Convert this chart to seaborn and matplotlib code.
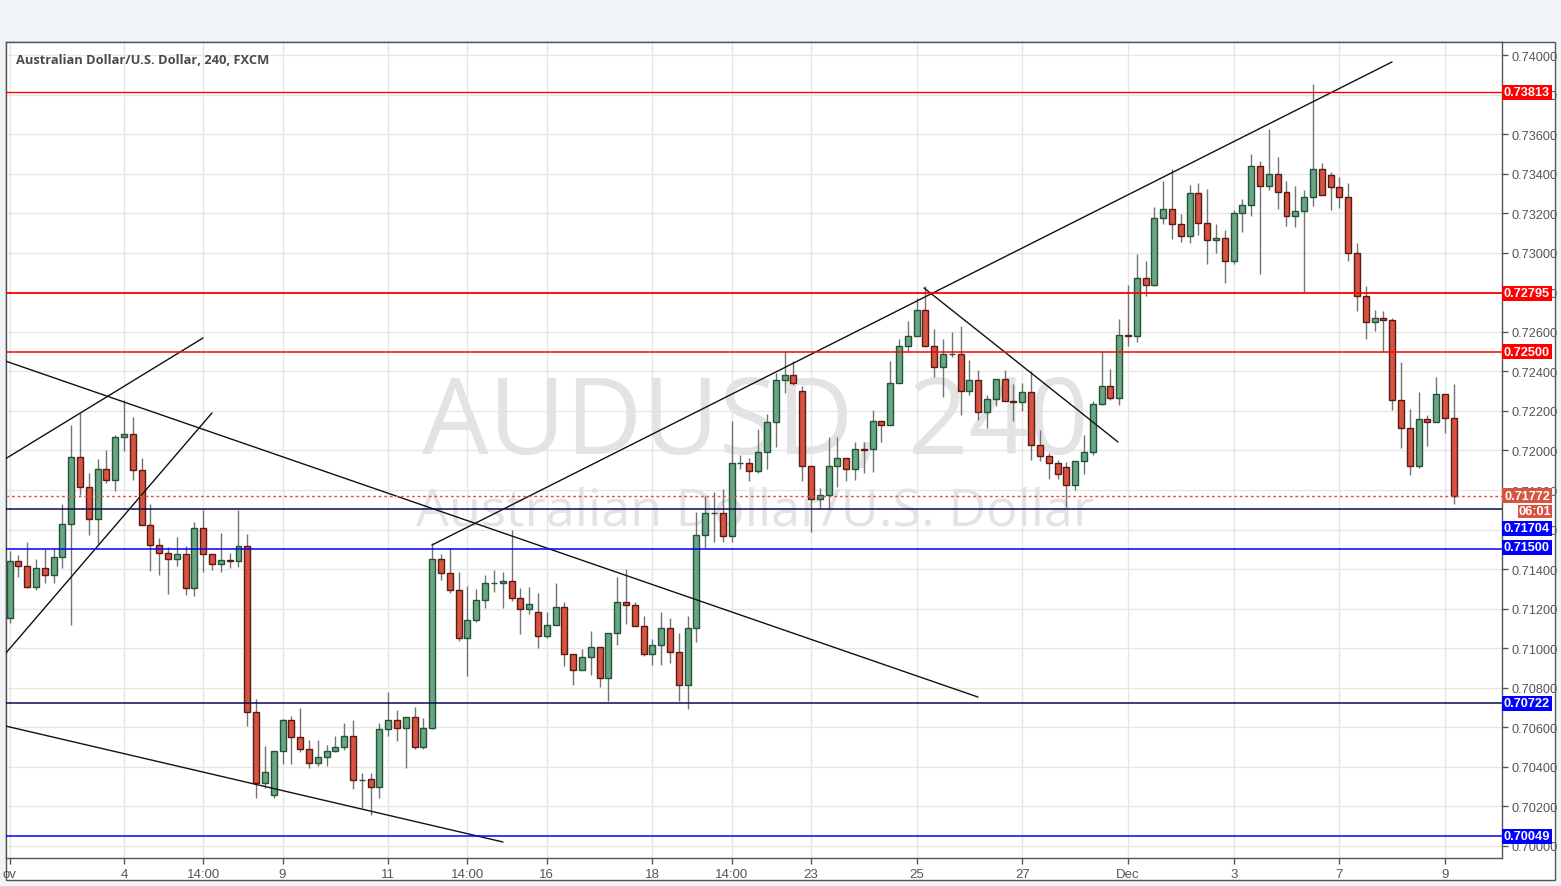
import matplotlib
matplotlib.use('Agg')
import numpy as np
import pandas as pd
import seaborn as sns
import matplotlib.pyplot as plt
from matplotlib.patches import Rectangle
from matplotlib import transforms

# AUDUSD 4h candles, 2 Nov - 9 Dec 2015
opens = [0.71154, 0.71441, 0.71415, 0.71309, 0.71405, 0.71370, 0.71461, 0.71628, 0.71967, 0.71815,
         0.71653, 0.71906, 0.71850, 0.72068, 0.72083, 0.71901, 0.71623, 0.71522, 0.71481, 0.71451,
         0.71476, 0.71304, 0.71608, 0.71476, 0.71426, 0.71446, 0.71441, 0.71517, 0.70677, 0.70316,
         0.70257, 0.70480, 0.70638, 0.70551, 0.70490, 0.70419, 0.70450, 0.70480, 0.70500, 0.70556,
         0.70333, 0.70338, 0.70298, 0.70591, 0.70638, 0.70594, 0.70652, 0.70500, 0.70598, 0.71451,
         0.71380, 0.71296, 0.71051, 0.71142, 0.71243, 0.71329, 0.71332, 0.71340, 0.71252, 0.71198,
         0.71183, 0.71061, 0.71117, 0.71208, 0.70970, 0.70889, 0.70955, 0.71007, 0.70849, 0.71077,
         0.71233, 0.71218, 0.71112, 0.70970, 0.71016, 0.71102, 0.70981, 0.70814, 0.71102, 0.71572,
         0.71683, 0.71686, 0.71567, 0.71936, 0.71936, 0.71896, 0.71992, 0.72144, 0.72356, 0.72381,
         0.72300, 0.71921, 0.71754, 0.71774, 0.71921, 0.71962, 0.71906, 0.72007, 0.72007, 0.72149,
         0.72128, 0.72341, 0.72528, 0.72579, 0.72710, 0.72528, 0.72422, 0.72487, 0.72489, 0.72300,
         0.72356, 0.72194, 0.72260, 0.72361, 0.72250, 0.72246, 0.72295, 0.72027, 0.71972, 0.71936,
         0.71916, 0.71825, 0.71946, 0.71992, 0.72235, 0.72326, 0.72265, 0.72584, 0.72580, 0.72872,
         0.72836, 0.73175, 0.73221, 0.73145, 0.73084, 0.73302, 0.73150, 0.73064, 0.73074, 0.72958,
         0.73201, 0.73241, 0.73438, 0.73337, 0.73398, 0.73307, 0.73185, 0.73211, 0.73281, 0.73423,
         0.73393, 0.73332, 0.73281, 0.72998, 0.72781, 0.72649, 0.72670, 0.72659, 0.72255, 0.72113,
         0.71921, 0.72159, 0.72144, 0.72285, 0.72164]
highs = [0.71491, 0.71471, 0.71538, 0.71452, 0.71504, 0.71504, 0.71730, 0.72128, 0.72191, 0.71887,
         0.71958, 0.72004, 0.72078, 0.72253, 0.72169, 0.71963, 0.71730, 0.71559, 0.71511, 0.71562,
         0.71517, 0.71638, 0.71699, 0.71478, 0.71585, 0.71483, 0.71699, 0.71579, 0.70742, 0.70507,
         0.70480, 0.70642, 0.70658, 0.70699, 0.70537, 0.70537, 0.70510, 0.70557, 0.70623, 0.70638,
         0.70369, 0.70369, 0.70621, 0.70780, 0.70685, 0.70652, 0.70702, 0.70648, 0.71533, 0.71478,
         0.71506, 0.71387, 0.71316, 0.71302, 0.71370, 0.71397, 0.71387, 0.71597, 0.71306, 0.71311,
         0.71280, 0.71184, 0.71331, 0.71235, 0.70970, 0.70994, 0.71087, 0.71007, 0.71077, 0.71360,
         0.71402, 0.71235, 0.71163, 0.71049, 0.71184, 0.71154, 0.71077, 0.71163, 0.71688, 0.71769,
         0.71790, 0.71806, 0.72149, 0.71977, 0.71962, 0.72108, 0.72186, 0.72393, 0.72503, 0.72452,
         0.72326, 0.71921, 0.71810, 0.72068, 0.72068, 0.71962, 0.72042, 0.72042, 0.72204, 0.72149,
         0.72452, 0.72563, 0.72654, 0.72772, 0.72831, 0.72614, 0.72563, 0.72599, 0.72629, 0.72457,
         0.72407, 0.72280, 0.72361, 0.72407, 0.72337, 0.72342, 0.72402, 0.72103, 0.71988, 0.71951,
         0.71941, 0.71946, 0.72078, 0.72250, 0.72504, 0.72413, 0.72664, 0.72838, 0.72993, 0.72958,
         0.73231, 0.73364, 0.73423, 0.73195, 0.73342, 0.73352, 0.73322, 0.73145, 0.73115, 0.73216,
         0.73271, 0.73499, 0.73464, 0.73625, 0.73484, 0.73362, 0.73337, 0.73317, 0.73853, 0.73453,
         0.73408, 0.73383, 0.73352, 0.73049, 0.72831, 0.72710, 0.72705, 0.72669, 0.72447, 0.72209,
         0.72295, 0.72179, 0.72371, 0.72285, 0.72336]
lows = [0.71129, 0.71361, 0.71306, 0.71292, 0.71332, 0.71332, 0.71407, 0.71115, 0.71774, 0.71575,
        0.71525, 0.71837, 0.71795, 0.71997, 0.71850, 0.71623, 0.71390, 0.71370, 0.71272, 0.71415,
        0.71269, 0.71262, 0.71385, 0.71395, 0.71385, 0.71405, 0.71410, 0.70606, 0.70241, 0.70291,
        0.70240, 0.70416, 0.70412, 0.70473, 0.70392, 0.70402, 0.70402, 0.70476, 0.70483, 0.70286,
        0.70190, 0.70159, 0.70240, 0.70554, 0.70533, 0.70395, 0.70490, 0.70490, 0.70591, 0.71343,
        0.71279, 0.71034, 0.70861, 0.71135, 0.71205, 0.71285, 0.71201, 0.71238, 0.71070, 0.71171,
        0.70999, 0.71053, 0.71117, 0.70908, 0.70814, 0.70889, 0.70867, 0.70804, 0.70733, 0.71014,
        0.71125, 0.71112, 0.70960, 0.70915, 0.70915, 0.70925, 0.70733, 0.70695, 0.71031, 0.71506,
        0.71537, 0.71537, 0.71537, 0.71906, 0.71845, 0.71886, 0.71904, 0.72020, 0.72290, 0.72329,
        0.71845, 0.71587, 0.71707, 0.71704, 0.71815, 0.71845, 0.71850, 0.71886, 0.71891, 0.72042,
        0.72128, 0.72341, 0.72503, 0.72579, 0.72528, 0.72374, 0.72270, 0.72472, 0.72179, 0.72280,
        0.72154, 0.72113, 0.72225, 0.72250, 0.72149, 0.72199, 0.71954, 0.71946, 0.71858, 0.71858,
        0.71714, 0.71800, 0.71879, 0.71977, 0.72230, 0.72255, 0.72230, 0.72526, 0.72548, 0.72781,
        0.72831, 0.73148, 0.73072, 0.73054, 0.73049, 0.73089, 0.72943, 0.72998, 0.72847, 0.72943,
        0.73104, 0.73185, 0.72895, 0.73317, 0.73219, 0.73135, 0.73130, 0.72801, 0.73236, 0.73292,
        0.73214, 0.73226, 0.72956, 0.72705, 0.72563, 0.72604, 0.72498, 0.72204, 0.72012, 0.71876,
        0.71911, 0.72022, 0.72144, 0.72088, 0.71729]
closes = [0.71441, 0.71415, 0.71309, 0.71405, 0.71370, 0.71461, 0.71628, 0.71967, 0.71815, 0.71653,
          0.71906, 0.71850, 0.72068, 0.72083, 0.71901, 0.71623, 0.71522, 0.71481, 0.71451, 0.71476,
          0.71304, 0.71608, 0.71476, 0.71426, 0.71446, 0.71441, 0.71517, 0.70677, 0.70317, 0.70374,
          0.70480, 0.70638, 0.70551, 0.70490, 0.70419, 0.70450, 0.70480, 0.70500, 0.70556, 0.70333,
          0.70336, 0.70298, 0.70591, 0.70638, 0.70594, 0.70652, 0.70500, 0.70598, 0.71451, 0.71380,
          0.71296, 0.71051, 0.71142, 0.71243, 0.71329, 0.71332, 0.71338, 0.71252, 0.71198, 0.71223,
          0.71061, 0.71117, 0.71208, 0.70970, 0.70889, 0.70955, 0.71007, 0.70849, 0.71077, 0.71233,
          0.71218, 0.71112, 0.70970, 0.71016, 0.71102, 0.70981, 0.70814, 0.71102, 0.71572, 0.71683,
          0.71686, 0.71567, 0.71936, 0.71937, 0.71896, 0.71992, 0.72144, 0.72356, 0.72381, 0.72341,
          0.71921, 0.71754, 0.71774, 0.71921, 0.71962, 0.71906, 0.72007, 0.72005, 0.72149, 0.72128,
          0.72341, 0.72528, 0.72579, 0.72710, 0.72528, 0.72422, 0.72487, 0.72489, 0.72300, 0.72356,
          0.72194, 0.72260, 0.72361, 0.72250, 0.72246, 0.72295, 0.72027, 0.71972, 0.71936, 0.71881,
          0.71825, 0.71946, 0.71992, 0.72235, 0.72326, 0.72265, 0.72584, 0.72580, 0.72872, 0.72836,
          0.73175, 0.73221, 0.73145, 0.73084, 0.73302, 0.73150, 0.73064, 0.73074, 0.72958, 0.73201,
          0.73241, 0.73438, 0.73337, 0.73398, 0.73307, 0.73185, 0.73211, 0.73281, 0.73423, 0.73292,
          0.73332, 0.73281, 0.72998, 0.72781, 0.72649, 0.72670, 0.72659, 0.72255, 0.72113, 0.71921,
          0.72159, 0.72144, 0.72285, 0.72164, 0.71772]

# x axis labels (candle number where each label sits)
tick_pos = [0, 13, 22, 31, 43, 52, 61, 73, 82, 91, 103, 115, 127, 139, 151, 163]
tick_txt = ['ov', '4', '14:00', '9', '11', '14:00', '16', '18', '14:00', '23', '25', '27',
            'Dec', '3', '7', '9']

# hand drawn trend lines: candle/price at both ends
tl_x0 = [-0.5, -0.5, -0.5, -0.5, 47.97, 103.84]
tl_p0 = [0.71957, 0.70971, 0.72453, 0.70607, 0.71522, 0.72822]
tl_x1 = [21.97, 22.99, 109.97, 56.03, 156.98, 125.87]
tl_p1 = [0.72569, 0.72190, 0.70753, 0.70020, 0.73965, 0.72043]

# horizontal levels
lvl_price = [0.73813, 0.72795, 0.72500, 0.71704, 0.71500, 0.70722, 0.70049]
lvl_line = ['#ff0000', '#ff0000', '#ff0000', '#0a0a50', '#0000ff', '#0a0a50', '#0000ff']
lvl_lw = [1, 1.3, 1.1, 1.1, 1.1, 1.1, 1.1]
lvl_box = ['#ff0000', '#ff0000', '#ff0000', '#0000ff', '#0000ff', '#0000ff', '#0000ff']
lvl_label_at = [0.73813, 0.72795, 0.72500, 0.71608, 0.71510, 0.70722, 0.70049]
last_price = 0.71772
countdown = '06:01'

sns.set_theme(style='white')
plt.rcParams['font.family'] = ['Liberation Sans', 'DejaVu Sans']

df = pd.DataFrame({'open': opens, 'high': highs, 'low': lows, 'close': closes})
df['n'] = np.arange(len(df))
up = df['close'] >= df['open']
body_lo = df[['open', 'close']].min(axis=1)
body_h = (df['close'] - df['open']).abs().clip(lower=0.00003)

W, H = 1561, 887
fig = plt.figure(figsize=(W / 100, H / 100), dpi=100, facecolor='#f0f3f8')
fig.patches.append(Rectangle((6 / W, 6 / H), 1549 / W, 838 / H, transform=fig.transFigure,
                             facecolor='white', edgecolor='#555555', lw=1, zorder=-5))
ax = fig.add_axes([6 / W, (H - 859) / H, 1496 / W, 816 / H])
ax.set_zorder(1)
ax.set_facecolor('white')

# grid
for p in np.arange(0.700, 0.7401, 0.002):
    ax.axhline(p, color='#e6e6e6', lw=1, zorder=0.5)
for t in tick_pos:
    ax.axvline(t, color='#e6e6e6', lw=1, zorder=0.5)

# watermark
ax.text(0.5007, 0.531, 'AUDUSD, 240', transform=ax.transAxes, ha='center', va='center',
        fontsize=76, color='#e3e3e3', family='Open Sans', zorder=1)
ax.text(0.5007, 0.425, 'Australian Dollar/U.S. Dollar', transform=ax.transAxes, ha='center',
        va='center', fontsize=37.5, color='#e3e3e3', family='Open Sans', zorder=1)

# candles
ax.vlines(df['n'], df['low'], df['high'], color='#737375', lw=1, zorder=3)
ax.bar(df['n'][up], body_h[up], bottom=body_lo[up], width=0.68, color='#6ba583',
       edgecolor='#225437', lw=1, zorder=4)
ax.bar(df['n'][~up], body_h[~up], bottom=body_lo[~up], width=0.68, color='#d75442',
       edgecolor='#5b1a13', lw=1, zorder=4)

# trend lines
for a, b, c, d in zip(tl_x0, tl_p0, tl_x1, tl_p1):
    ax.plot([a, c], [b, d], color='#111111', lw=1, zorder=5)

# levels
for p, c, w in zip(lvl_price, lvl_line, lvl_lw):
    ax.axhline(p, color=c, lw=w, zorder=5)
ax.axhline(last_price, color='#d75442', lw=1, ls=(0, (2, 2)), zorder=5)

ax.set_xlim(-0.4, 169.47)
ax.set_ylim(0.69939, 0.74066)

ax.yaxis.tick_right()
ax.set_yticks(np.arange(0.700, 0.7401, 0.002))
ax.set_yticklabels(['%.5f' % v for v in np.arange(0.700, 0.7401, 0.002)])
ax.tick_params(axis='y', right=True, length=4, width=1, color='#555555', labelsize=9.2,
               labelcolor='#555555', pad=2.5)
ax.set_xticks(tick_pos)
ax.set_xticklabels(tick_txt, family=['Liberation Sans Narrow', 'Liberation Sans'])
ax.tick_params(axis='x', bottom=True, length=4, width=1, color='#555555', labelsize=9.5,
               labelcolor='#555555', pad=3)
for s in ax.spines.values():
    s.set_color('#555555')
    s.set_linewidth(1)

# price boxes on the right scale
blend = transforms.blended_transform_factory(ax.transAxes, ax.transData)
box_w = 50 / 1496
box_h = 15 / 19775
for p, lab, c in zip(lvl_price, lvl_label_at, lvl_box):
    ax.add_patch(Rectangle((1.0, lab - box_h / 2), box_w, box_h, transform=blend,
                           facecolor=c, edgecolor='none', clip_on=False, zorder=6))
    ax.text(1.0 + box_w / 2, lab, '%.5f' % p, transform=blend, ha='center', va='center',
            color='white', fontsize=9.2, fontweight='bold', clip_on=False, zorder=7)
ax.add_patch(Rectangle((1.0, last_price - box_h / 2), box_w, box_h, transform=blend,
                       facecolor='#d75442', edgecolor='none', clip_on=False, zorder=6))
ax.text(1.0 + box_w / 2, last_price, '%.5f' % last_price, transform=blend, ha='center',
        va='center', color='white', fontsize=9.2, fontweight='bold', clip_on=False, zorder=7)
cd_p = 0.71694
ax.add_patch(Rectangle((1.0 + 16 / 1496, cd_p - box_h / 2 + 0.00002), 34 / 1496, 13 / 19775,
                       transform=blend, facecolor='#d75442', edgecolor='none', clip_on=False,
                       zorder=6))
ax.text(1.0 + 33 / 1496, cd_p, countdown, transform=blend, ha='center', va='center',
        color='white', fontsize=9.2, fontweight='bold', clip_on=False, zorder=7)

ax.text(10 / 1496, (859 - 60) / 816, 'Australian Dollar/U.S. Dollar, 240, FXCM',
        transform=ax.transAxes, ha='left', va='center', fontsize=9.3, fontweight='bold',
        color='#4a4a4a', family='Open Sans', zorder=7)

fig.savefig('out.png', dpi=100, facecolor=fig.get_facecolor())
